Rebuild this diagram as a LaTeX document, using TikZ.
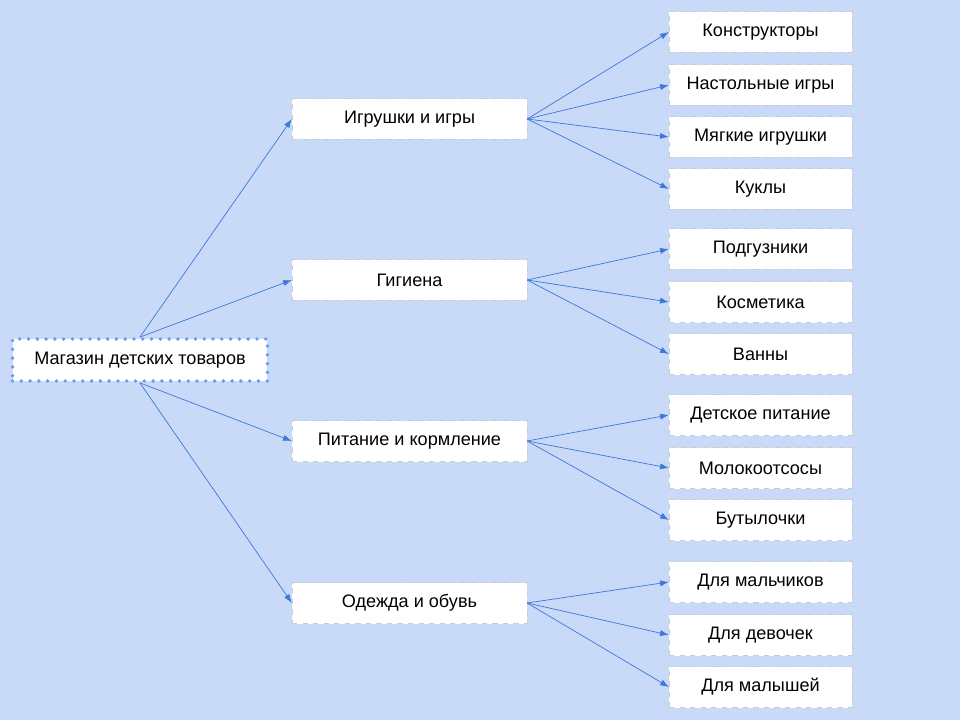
\documentclass[tikz,border=0pt]{standalone}
\usepackage{fontspec}
\setmainfont{Liberation Sans}
\usetikzlibrary{arrows.meta}
\definecolor{bgblue}{HTML}{C9DAF8}
\definecolor{lineblue}{HTML}{3C78D8}
\definecolor{dotblue}{HTML}{6D9EEB}
\tikzset{
  box/.style={draw=gray!40,dashed,very thin,fill=white,minimum height=0.82cm,font=\fontsize{10.3}{12}\selectfont},
  midbox/.style={box,minimum width=4.7cm},
  leafbox/.style={box,minimum width=3.66cm},
  rootbox/.style={box,draw=dotblue,solid,line width=2.2pt,dash pattern=on 0pt off 5pt,line cap=round,minimum width=5.1cm,minimum height=0.84cm},
  link/.style={draw=lineblue,thin,-{Latex[length=5pt,width=3.5pt]}}
}
\begin{document}
\begin{tikzpicture}[x=0.02cm,y=-0.02cm]
\fill[bgblue] (0,0) rectangle (960,720);
\useasboundingbox (0,0) rectangle (960,720);
\node[rootbox] (root) at (140,360) {Магазин детских товаров};
% middle level
\node[midbox] (toys) at (409.5,119) {Игрушки и игры};
\node[midbox] (hyg) at (409.5,280) {Гигиена};
\node[midbox] (food) at (409.5,441) {Питание и кормление};
\node[midbox] (wear) at (409.5,603) {Одежда и обувь};
\draw[link] (root.north) -- (toys.west);
\draw[link] (root.north) -- (hyg.west);
\draw[link] (root.south) -- (food.west);
\draw[link] (root.south) -- (wear.west);
% leaves
\foreach \name/\y/\parent/\txt in {
  l1/32/toys/Конструкторы, l2/85/toys/Настольные игры, l3/137/toys/Мягкие игрушки, l4/189/toys/Куклы,
  l5/249/hyg/Подгузники, l6/302/hyg/Косметика, l7/354/hyg/Ванны,
  l8/415/food/Детское питание, l9/468/food/Молокоотсосы, l10/520/food/Бутылочки,
  l11/582/wear/Для мальчиков, l12/635/wear/Для девочек, l13/687/wear/Для малышей}
{
  \node[leafbox] (\name) at (760.5,\y) {\txt};
  \draw[link] (\parent.east) -- (\name.west);
}
\end{tikzpicture}
\end{document}
